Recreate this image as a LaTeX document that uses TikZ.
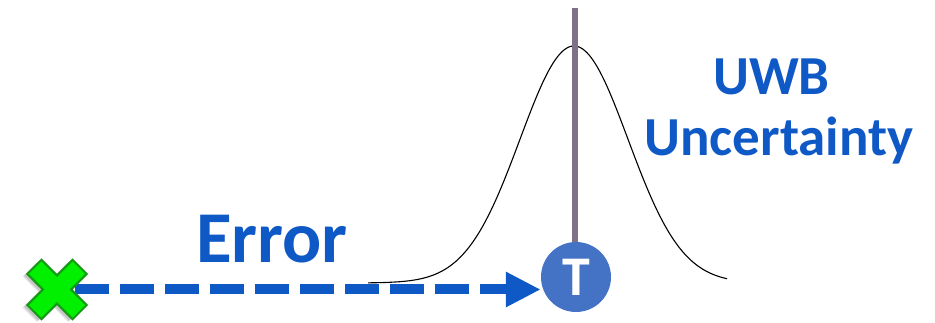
\documentclass[tikz,border=0pt]{standalone}
\usepackage{fontspec}
\setmainfont{Carlito}
\usetikzlibrary{arrows.meta}
\definecolor{txtblue}{HTML}{0F59C6}
\definecolor{tblue}{HTML}{4472C4}
\definecolor{barcol}{HTML}{7D7087}
\definecolor{xfill}{HTML}{00F000}
\definecolor{xline}{HTML}{129A12}
\tikzset{
  lbl/.style={text=txtblue, font=\bfseries, inner sep=0pt, anchor=base},
  errarrow/.style={draw=txtblue, line width=10pt, dash pattern=on 34pt off 11pt,
    -{Triangle[length=35pt,width=33pt]}},
  crossshape/.style={fill=xfill, draw=xline, line width=2pt, line join=miter},
}
\begin{document}
\begin{tikzpicture}[x=1pt,y=-1pt]
\useasboundingbox (0,0) rectangle (935,323);
% Gaussian curve
\draw[black, line width=1.1pt] plot[domain=368:727, samples=160, smooth]
  (\x, {283-237*exp(-0.5*((\x-574)/54)^2)});
% T node and bar
\node[circle, fill=tblue, minimum size=70pt, inner sep=0pt, text=white,
  font=\bfseries\fontsize{56}{60}\selectfont] (T) at (576,277) {T};
\coordinate (bartop) at (575,8);
\draw[barcol, line width=6pt] (bartop) -- (T.north -| bartop);
% arrow
\coordinate (start) at (75,289.5);
\draw[errarrow] (start) -- (start -| T.west);
% cross
\coordinate (cross) at (57,289.5);
\begin{scope}[shift={(cross)}, rotate=45]
  \foreach \o/\s in {0.12/5, 0.12/3.5} {
    \fill[black, opacity=\o, shift={(-\s,-0.3*\s)}]
      (32,10)--(10,10)--(10,32)--(-10,32)--(-10,10)--(-32,10)--(-32,-10)
      --(-10,-10)--(-10,-32)--(10,-32)--(10,-10)--(32,-10)--cycle;
  }
  \path[crossshape]
    (32,10)--(10,10)--(10,32)--(-10,32)--(-10,10)--(-32,10)--(-32,-10)
    --(-10,-10)--(-10,-32)--(10,-32)--(10,-10)--(32,-10)--cycle;
\end{scope}
% labels
\node[lbl, font=\bfseries\fontsize{73}{80}\selectfont] (err) at (272,263) {Error};
\node[lbl, font=\bfseries\fontsize{55}{60}\selectfont] (uwb) at (771.5,95) {UWB};
\node[lbl, font=\bfseries\fontsize{55}{60}\selectfont] (unc) at (779,156) {Uncertainty};
\end{tikzpicture}
\end{document}
